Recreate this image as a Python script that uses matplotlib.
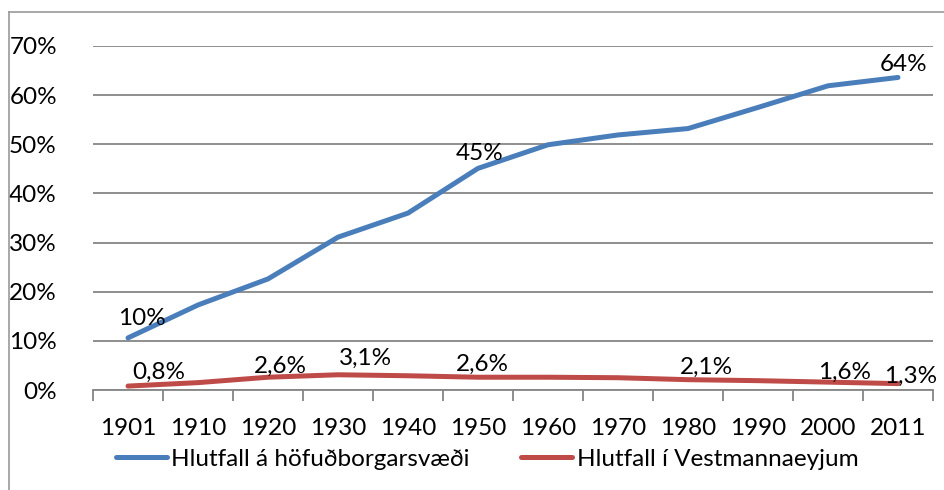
import matplotlib
matplotlib.use('Agg')
import matplotlib.pyplot as plt
from matplotlib.lines import Line2D
from matplotlib.ticker import FuncFormatter
import numpy as np

years = ['1901', '1910', '1920', '1930', '1940', '1950',
         '1960', '1970', '1980', '1990', '2000', '2011']
capital_share = [10.6, 17.3, 22.6, 31.1, 36.0, 45.1,
                 49.9, 51.9, 53.2, 57.5, 61.9, 63.6]
vestm_share = [0.8, 1.5, 2.6, 3.1, 2.9, 2.6,
               2.6, 2.5, 2.1, 1.9, 1.6, 1.3]
capital_labels = {0: '10%', 5: '45%', 11: '64%'}
vestm_labels = {0: '0,8%', 2: '2,6%', 3: '3,1%', 5: '2,6%',
                8: '2,1%', 10: '1,6%', 11: '1,3%'}
series_names = ['Hlutfall á höfuðborgarsvæði', 'Hlutfall í Vestmannaeyjum']

plt.rcParams['font.family'] = ['Lato', 'DejaVu Sans']
FS = 17.5

BLUE = '#4A7EBB'
RED = '#BE4B48'
GRID = '#868686'

fig = plt.figure(figsize=(9.44, 4.90), dpi=100)
ax = fig.add_axes([93 / 944, 1 - 390 / 490, 840 / 944, 344 / 490])

x = np.arange(len(years))
ax.plot(x, np.array(capital_share) / 100, color=BLUE, lw=3.6,
        solid_capstyle='round', solid_joinstyle='round', zorder=3)
ax.plot(x, np.array(vestm_share) / 100, color=RED, lw=3.6,
        solid_capstyle='round', solid_joinstyle='round', zorder=3)

# data labels (offsets in points)
cap_off = {0: (10, 14), 5: (1, 11), 11: (4, 9)}
for i, txt in capital_labels.items():
    ax.annotate(txt, (x[i], capital_share[i] / 100), xytext=cap_off[i],
                textcoords='offset points', ha='center', va='center',
                fontsize=FS, zorder=4)
ves_off = {0: (22, 10), 2: (9, 8), 3: (20, 12), 5: (3, 9),
           8: (13, 9), 10: (12, 7), 11: (9, 5)}
for i, txt in vestm_labels.items():
    ax.annotate(txt, (x[i], vestm_share[i] / 100), xytext=ves_off[i],
                textcoords='offset points', ha='center', va='center',
                fontsize=FS, zorder=4)

ax.set_xlim(-0.5, len(years) - 0.5)
ax.set_ylim(0, 0.7)
ax.set_yticks(np.arange(0, 0.71, 0.1))
ax.yaxis.set_major_formatter(FuncFormatter(lambda v, p: f'{v * 100:.0f}%'))
ax.yaxis.grid(True, color=GRID, lw=1.3)
ax.set_axisbelow(True)
ax.tick_params(axis='y', length=0, pad=26, labelsize=FS)

ax.set_xticks(np.arange(-0.5, len(years), 1.0))
ax.set_xticklabels([])
ax.set_xticks(x, minor=True)
ax.set_xticklabels(years, minor=True)
ax.tick_params(axis='x', which='major', length=8, width=1.3, color=GRID, direction='out')
ax.tick_params(axis='x', which='minor', length=0, pad=20, labelsize=FS)

for s in ['top', 'right', 'left']:
    ax.spines[s].set_visible(False)
ax.spines['bottom'].set_color(GRID)
ax.spines['bottom'].set_linewidth(1.3)

# chart border (left and top visible)
fig.add_artist(Line2D([9 / 944, 9 / 944], [0, 1 - 12 / 490], color='#999999', lw=1.2))
fig.add_artist(Line2D([9 / 944, 1], [1 - 12 / 490, 1 - 12 / 490], color='#999999', lw=1.2))

handles = [Line2D([], [], color=BLUE, lw=3.6, solid_capstyle='round'),
           Line2D([], [], color=RED, lw=3.6, solid_capstyle='round')]
fig.legend(handles, series_names, loc='center', bbox_to_anchor=(487 / 944, 1 - 459 / 490),
           ncol=2, frameon=False, fontsize=FS, handlelength=2.1, handletextpad=0.2,
           columnspacing=2.1, borderpad=0, borderaxespad=0)

plt.savefig('out.png', dpi=100)
